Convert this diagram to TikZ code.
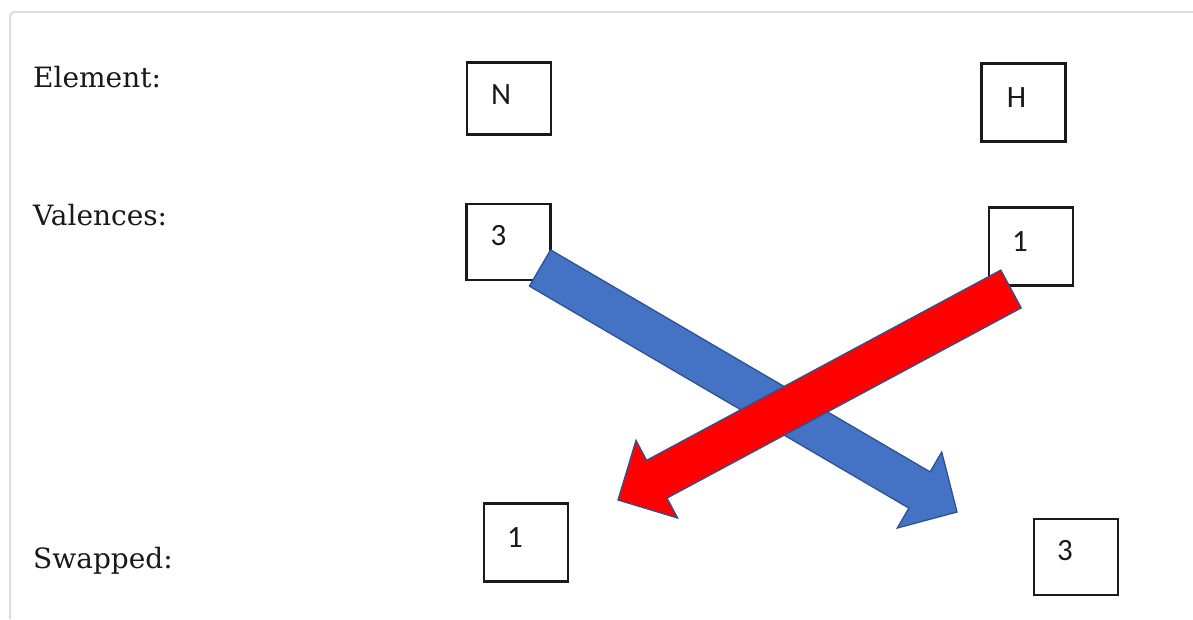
\documentclass[tikz,border=0pt]{standalone}
\usepackage{fontspec}
\setmainfont{DejaVu Serif}
\newfontfamily\boxfont{Carlito}
\usetikzlibrary{calc}
\definecolor{officeblue}{HTML}{4472C4}
\definecolor{outlineblue}{HTML}{2F528F}
\definecolor{boxline}{HTML}{1A1A1A}
\definecolor{framegray}{HTML}{DEDEDE}
\tikzset{
  rowlabel/.style={anchor=base west, inner sep=0pt, font=\fontsize{28}{31}\selectfont, text=black!90},
  valbox/.style={draw=boxline, line width=2.2pt, minimum width=84pt, minimum height=76pt, inner sep=0pt},
  valtext/.style={inner sep=0pt, font=\boxfont\fontsize{31}{34}\selectfont, text=black!90},
  blockarrow/.style={draw=outlineblue, line width=1.3pt, line join=miter}
}
\begin{document}
\begin{tikzpicture}[x=1pt,y=-1pt]
\useasboundingbox (0,0) rectangle (1193,619);
\fill[white] (0,0) rectangle (1193,619);
% frame
\draw[framegray, line width=2pt, rounded corners=4pt] (10,619) |- (1193,12);

% row labels
\node[rowlabel] (lelem) at (33,87) {Element:};
\node[rowlabel] (lval) at (33,225) {Valences:};
\node[rowlabel] (lswap) at (33,568) {Swapped:};

% boxes
\node[valbox, minimum height=72pt] (bN) at (509,98.5) {};
\node[valbox, minimum height=78pt] (bH) at (1023.5,102.5) {};
\node[valbox] (bV3) at (508.5,242) {};
\node[valbox, minimum height=78pt] (bV1) at (1031,246.5) {};
\node[valbox, minimum height=78pt] (bS1) at (526,542.5) {};
\node[valbox] (bS3) at (1076,557) {};

\node[valtext] (tN) at ($(bN)+(-8,-4)$) {N};
\node[valtext] (tH) at ($(bH)+(-7,-5)$) {H};
\node[valtext] (tV3) at ($(bV3)+(-10,-6)$) {3};
\node[valtext] (tV1) at ($(bV1)+(-11,-5)$) {1};
\node[valtext] (tS1) at ($(bS1)+(-11,-5)$) {1};
\node[valtext] (tS3) at ($(bS3)+(-11,-6)$) {3};

% blue arrow (3 -> right bottom)
\draw[blockarrow, fill=officeblue]
  (550.6,249.9) -- (930.1,471.9) -- (941.7,452.0) -- (957,512)
  -- (897.3,528.0) -- (908.9,508.1) -- (529.4,286.1) -- cycle;
% red arrow (1 -> left bottom)
\draw[blockarrow, fill=red]
  (1000.8,270.1) -- (646.6,460.3) -- (636.0,440.4) -- (618,500)
  -- (677.6,518.0) -- (667.0,498.1) -- (1021.2,307.9) -- cycle;
\end{tikzpicture}
\end{document}
